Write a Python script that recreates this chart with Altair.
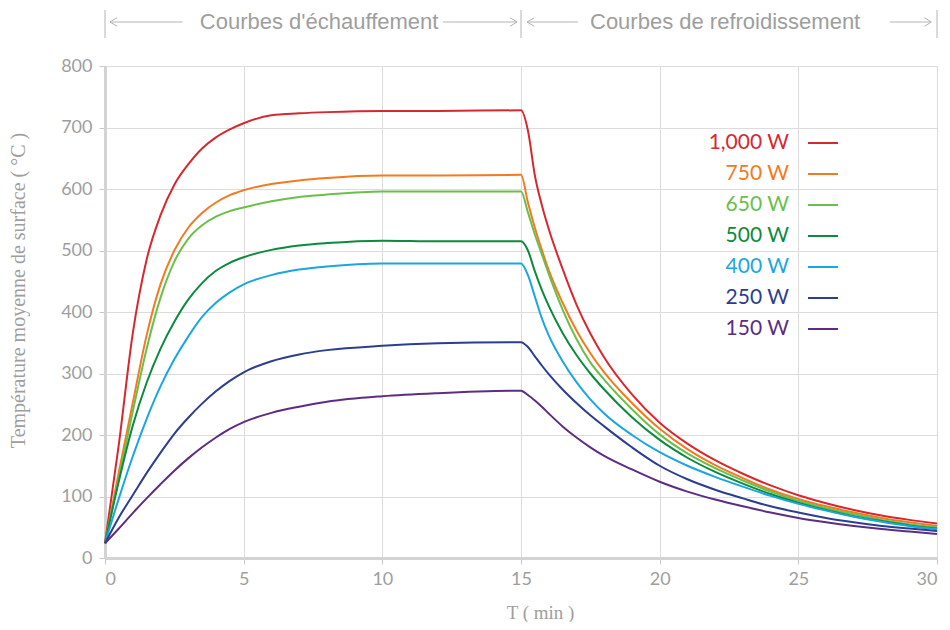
import altair as alt
import pandas as pd

# ---- data -------------------------------------------------------------
times = [0, 0.5, 1, 1.5, 2, 2.5, 3, 3.5, 4, 4.5, 5, 6, 7, 8, 10, 12, 15,
         15.25, 15.5, 15.75, 16, 16.5, 17, 17.5, 18, 19, 20, 21, 22, 23, 24,
         25, 26, 27, 28, 29, 30]

series_names = ["1,000 W", "750 W", "650 W", "500 W", "400 W", "250 W", "150 W"]
series_colors = ["#d7282f", "#f37a21", "#6abf4b", "#0c8a3e", "#1aa7df", "#2c3e8f", "#5c2d83"]

temp_1000 = [24, 185, 365, 485, 557, 607, 640, 666, 684, 697, 707, 720, 723, 725, 727, 727, 728,
             695, 622, 574, 535, 470, 412, 365, 326, 266, 220, 186, 159, 137, 118,
             102, 89, 78, 69, 62, 56]
temp_750 = [24, 140, 252, 362, 445, 500, 537, 561, 578, 590, 598, 608, 614, 618, 622, 622, 623,
            578, 537, 501, 468, 415, 370, 333, 302, 252, 210, 177, 151, 130, 111,
            96, 84, 74, 65, 58, 52]
temp_650 = [24, 130, 238, 340, 423, 482, 519, 541, 555, 564, 570, 580, 587, 591, 596, 596, 596,
            562, 526, 494, 462, 404, 356, 318, 290, 242, 201, 170, 146, 126, 108,
            93, 81, 71, 62, 55, 50]
temp_500 = [24, 125, 215, 285, 340, 384, 420, 447, 467, 480, 489, 501, 508, 512, 516, 515, 515,
            500, 466, 436, 410, 366, 330, 300, 274, 229, 192, 163, 140, 121, 104,
            90, 78, 68, 60, 53, 48]
temp_400 = [24, 97, 165, 226, 279, 323, 360, 392, 415, 432, 445, 460, 469, 474, 479, 479, 479,
            460, 425, 390, 362, 320, 286, 258, 235, 200, 172, 150, 132, 116, 101,
            88, 77, 67, 59, 52, 47]
temp_250 = [24, 66, 102, 138, 171, 202, 228, 251, 271, 288, 302, 320, 331, 338, 345, 349, 351,
            343, 328, 313, 299, 274, 252, 232, 214, 180, 150, 128, 111, 97, 84,
            74, 65, 58, 52, 48, 44]
temp_150 = [24, 48, 73, 97, 120, 142, 162, 180, 196, 210, 221, 236, 246, 254, 263, 268, 272,
            265, 256, 246, 235, 214, 196, 180, 166, 144, 124, 108, 95, 84, 74,
            65, 58, 52, 47, 43, 39]

x_ticks = [0, 5, 10, 15, 20, 25, 30]
y_ticks = [0, 100, 200, 300, 400, 500, 600, 700, 800]

phase_labels = ["Courbes d'échauffement", "Courbes de refroidissement"]
phase_label_t = [7.72, 22.36]
phase_bounds = [0, 15, 30]
shaft_start = [0.18, 12.19, 15.22, 28.3]
shaft_end = [2.8, 14.86, 17.06, 29.75]
head_left_t = [0.18, 15.22]
head_right_t = [14.86, 29.8]

# ---- tables -----------------------------------------------------------
rows = []
for name, vals in zip(series_names, [temp_1000, temp_750, temp_650, temp_500,
                                     temp_400, temp_250, temp_150]):
    for t, v in zip(times, vals):
        rows.append({"series": name, "t": t, "temp": v})
df = pd.DataFrame(rows)

legend_df = pd.DataFrame({"series": series_names})
bounds_df = pd.DataFrame({"t": phase_bounds})
shaft_df = pd.DataFrame({"t0": shaft_start, "t1": shaft_end})
label_df = pd.DataFrame({"t": phase_label_t, "label": phase_labels})
hl_df = pd.DataFrame({"t": head_left_t})
hr_df = pd.DataFrame({"t": head_right_t})

GRAY_TXT = "#9e9e9e"
ANN = "#b4b4b4"
color_scale = alt.Scale(domain=series_names, range=series_colors)
color_enc = alt.Color("series:N", scale=color_scale, legend=None)

x_enc = alt.X(
    "t:Q",
    scale=alt.Scale(domain=[0, 30], nice=False),
    axis=alt.Axis(
        values=x_ticks, title="T ( min )", titleX=435, titleY=54,
        titleBaseline="middle", titleAlign="center",
        titleFont="Liberation Serif", titleFontSize=19, titleFontWeight="normal",
        titleColor=GRAY_TXT, labelFont="Lato", labelFontSize=18, labelColor=GRAY_TXT,
        labelPadding=6, tickSize=6, tickColor="#c8c8c8", domainColor="#d3d3d3",
        domainWidth=3, gridColor="#dcdcdc", gridWidth=1,
    ),
)
y_enc = alt.Y(
    "temp:Q",
    scale=alt.Scale(domain=[0, 800], nice=False),
    axis=alt.Axis(
        values=y_ticks, title="Température moyenne de surface ( °C )",
        titleX=-87, titleY=224, titleAngle=-90, titleAlign="center",
        titleBaseline="middle", titleFont="Liberation Serif", titleFontSize=20,
        titleFontWeight="normal", titleColor=GRAY_TXT,
        labelFont="Lato", labelFontSize=18, labelColor=GRAY_TXT, labelPadding=7,
        tickSize=6, tickColor="#c8c8c8", domainColor="#d3d3d3", domainWidth=3,
        gridColor="#dcdcdc", gridWidth=1,
    ),
)

lines = alt.Chart(df).mark_line(strokeWidth=2, interpolate="monotone").encode(
    x=x_enc, y=y_enc, color=color_enc
)

leg_y = alt.Y("series:N", sort=series_names,
              scale=alt.Scale(type="point", range=[77, 263], padding=0), axis=None)

leg_text = alt.Chart(legend_df).mark_text(
    align="right", baseline="middle", font="Lato", fontSize=21
).encode(x=alt.value(684), y=leg_y, text="series:N", color=color_enc)

leg_sym = alt.Chart(legend_df).mark_rule(strokeWidth=2).encode(
    x=alt.value(703), x2=alt.value(733), y=leg_y, color=color_enc
)

bars = alt.Chart(bounds_df).mark_rule(color=ANN, strokeWidth=1).encode(
    x="t:Q", y=alt.value(-56), y2=alt.value(-28)
)
shafts = alt.Chart(shaft_df).mark_rule(color=ANN, strokeWidth=1).encode(
    x="t0:Q", x2="t1:Q", y=alt.value(-44)
)
heads_l = alt.Chart(hl_df).mark_point(
    shape="M1,-0.6L0,0L1,0.6", filled=False, size=200, strokeWidth=1, color=ANN, opacity=1
).encode(x="t:Q", y=alt.value(-44))
heads_r = alt.Chart(hr_df).mark_point(
    shape="M-1,-0.6L0,0L-1,0.6", filled=False, size=200, strokeWidth=1, color=ANN, opacity=1
).encode(x="t:Q", y=alt.value(-44))
phase_text = alt.Chart(label_df).mark_text(
    font="Liberation Sans", fontSize=22, color=GRAY_TXT, baseline="middle", align="center"
).encode(x="t:Q", y=alt.value(-44), text="label:N")

chart = alt.layer(
    lines, leg_text, leg_sym, bars, shafts, heads_l, heads_r, phase_text
).resolve_scale(y="independent").properties(
    width=832, height=492,
    autosize=alt.AutoSizeParams(type="none"),
    padding={"left": 97, "top": 58, "right": 5, "bottom": 64},
    background="white",
).configure_view(stroke=None)

chart.save("out.html", embed_options={"renderer": "svg", "actions": False})
